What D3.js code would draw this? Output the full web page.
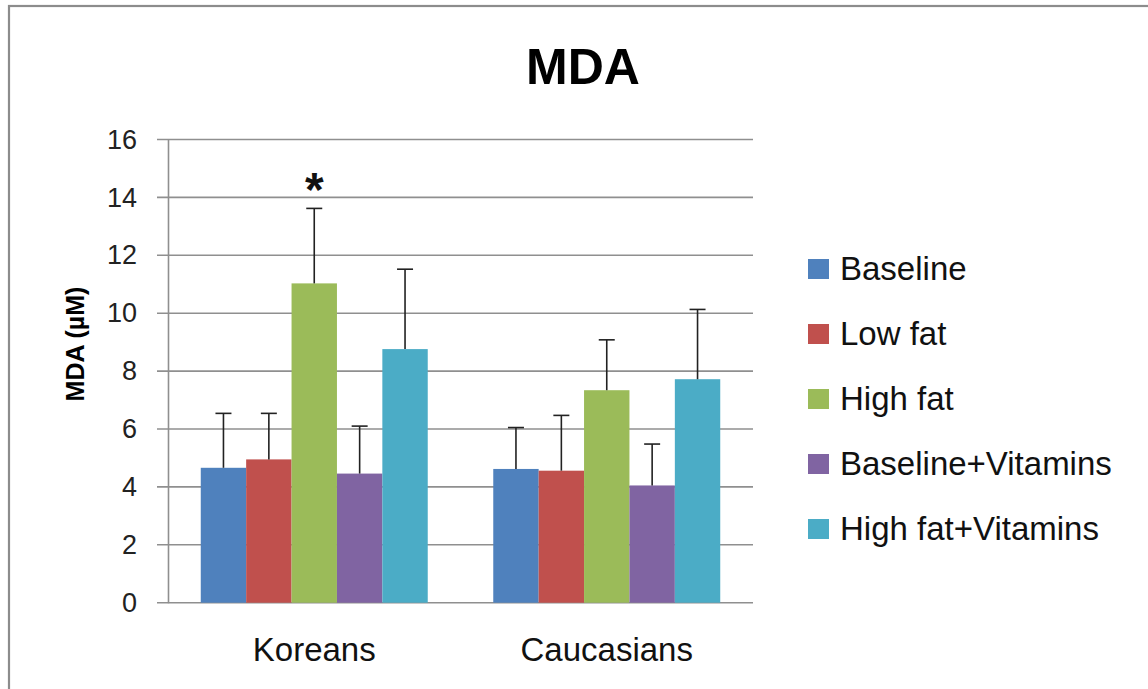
<!DOCTYPE html>
<html>
<head>
<meta charset="utf-8">
<script src="https://cdn.jsdelivr.net/npm/d3@7"></script>
<style>
  html, body { margin: 0; padding: 0; background: #fff; }
  svg { display: block; }
</style>
</head>
<body>
<script>
const categories = ["Koreans", "Caucasians"];
const seriesNames = ["Baseline", "Low fat", "High fat", "Baseline+Vitamins", "High fat+Vitamins"];
const seriesColors = ["#4F81BD", "#C0504D", "#9BBB59", "#8064A2", "#4BACC6"];
// means per series: [Koreans, Caucasians]
const baselineVals = [4.66, 4.62];
const lowFatVals = [4.95, 4.56];
const highFatVals = [11.03, 7.34];
const baseVitVals = [4.46, 4.05];
const highVitVals = [8.76, 7.72];
// upper error bar ends (mean + SD)
const baselineErr = [6.54, 6.05];
const lowFatErr = [6.54, 6.47];
const highFatErr = [13.62, 9.08];
const baseVitErr = [6.10, 5.48];
const highVitErr = [11.52, 10.13];
const yTicks = [0, 2, 4, 6, 8, 10, 12, 14, 16];
const significance = [{ category: "Koreans", series: "High fat", label: "*" }];

const values = [baselineVals, lowFatVals, highFatVals, baseVitVals, highVitVals];
const errs = [baselineErr, lowFatErr, highFatErr, baseVitErr, highVitErr];

const W = 1148, H = 689;
const svg = d3.select("body").append("svg").attr("width", W).attr("height", H);
const font = "'Liberation Sans', Arial, sans-serif";

// outer border
svg.append("rect").attr("x", 9).attr("y", 6).attr("width", W + 20).attr("height", H + 20)
  .attr("fill", "none").attr("stroke", "#8c8c8c").attr("stroke-width", 2.2);

const pLeft = 168, pRight = 753, pTop = 139.5, pBottom = 602.7;
const x0 = d3.scaleBand().domain(categories).range([pLeft, pRight]).padding(0);
const gap = x0.bandwidth() * 0.112;
const x1 = d3.scaleBand().domain(seriesNames).range([gap, x0.bandwidth() - gap]).padding(0);
const y = d3.scaleLinear().domain([0, 16]).range([pBottom, pTop]);
const color = d3.scaleOrdinal().domain(seriesNames).range(seriesColors);

// gridlines
svg.append("g").selectAll("line").data(yTicks).join("line")
  .attr("x1", pLeft - 11).attr("x2", pRight)
  .attr("y1", d => y(d)).attr("y2", d => y(d))
  .attr("stroke", "#8f8f8f").attr("stroke-width", 1.6);

// y axis
const yAxis = d3.axisLeft(y).tickValues(yTicks).tickSize(0).tickPadding(31);
const gy = svg.append("g").attr("transform", `translate(${pLeft},0)`).call(yAxis);
gy.select(".domain").attr("stroke", "#8f8f8f").attr("stroke-width", 1.6);
gy.selectAll("text").attr("font-family", font).attr("font-size", 27).attr("fill", "#222");

// x axis labels
const xAxis = d3.axisBottom(x0).tickSize(0).tickPadding(35);
const gx = svg.append("g").attr("transform", `translate(0,${pBottom})`).call(xAxis);
gx.select(".domain").remove();
gx.selectAll("text").attr("font-family", font).attr("font-size", 33).attr("fill", "#111");

// bars
const rows = [];
categories.forEach((c, ci) => seriesNames.forEach((s, si) => {
  rows.push({ cat: c, ser: s, v: values[si][ci], e: errs[si][ci] });
}));
const g = svg.append("g");
g.selectAll("rect").data(rows).join("rect")
  .attr("x", d => x0(d.cat) + x1(d.ser))
  .attr("width", x1.bandwidth())
  .attr("y", d => y(d.v))
  .attr("height", d => y(0) - y(d.v))
  .attr("fill", d => color(d.ser));

// error bars (upper only)
const eb = svg.append("g").attr("stroke", "#222").attr("stroke-width", 1.6);
rows.forEach(d => {
  const cx = x0(d.cat) + x1(d.ser) + x1.bandwidth() / 2;
  eb.append("line").attr("x1", cx).attr("x2", cx).attr("y1", y(d.v)).attr("y2", y(d.e));
  eb.append("line").attr("x1", cx - 8).attr("x2", cx + 8).attr("y1", y(d.e)).attr("y2", y(d.e));
});

// significance marks
significance.forEach(s => {
  const si = seriesNames.indexOf(s.series), ci = categories.indexOf(s.category);
  const cx = x0(s.category) + x1(s.series) + x1.bandwidth() / 2;
  svg.append("text").attr("x", cx).attr("y", y(errs[si][ci]) - 2)
    .attr("text-anchor", "middle").attr("font-family", font).attr("font-weight", "bold")
    .attr("font-size", 48).attr("fill", "#111").text(s.label);
});

// title
svg.append("text").attr("x", 583).attr("y", 84).attr("text-anchor", "middle")
  .attr("font-family", font).attr("font-weight", "bold").attr("font-size", 50)
  .attr("fill", "#000").text("MDA");

// y label
svg.append("text").attr("transform", `translate(83.5,344) rotate(-90)`)
  .attr("text-anchor", "middle").attr("font-family", font).attr("font-weight", "bold")
  .attr("font-size", 25).attr("fill", "#000").text("MDA (µM)");

// legend
const lg = svg.append("g");
seriesNames.forEach((s, i) => {
  const cy = 269 + i * 65;
  lg.append("rect").attr("x", 808).attr("y", cy - 10).attr("width", 21).attr("height", 20)
    .attr("fill", color(s));
  lg.append("text").attr("x", 840).attr("y", cy + 11).attr("font-family", font)
    .attr("font-size", 33).attr("fill", "#111").text(s);
});
</script>
</body>
</html>
